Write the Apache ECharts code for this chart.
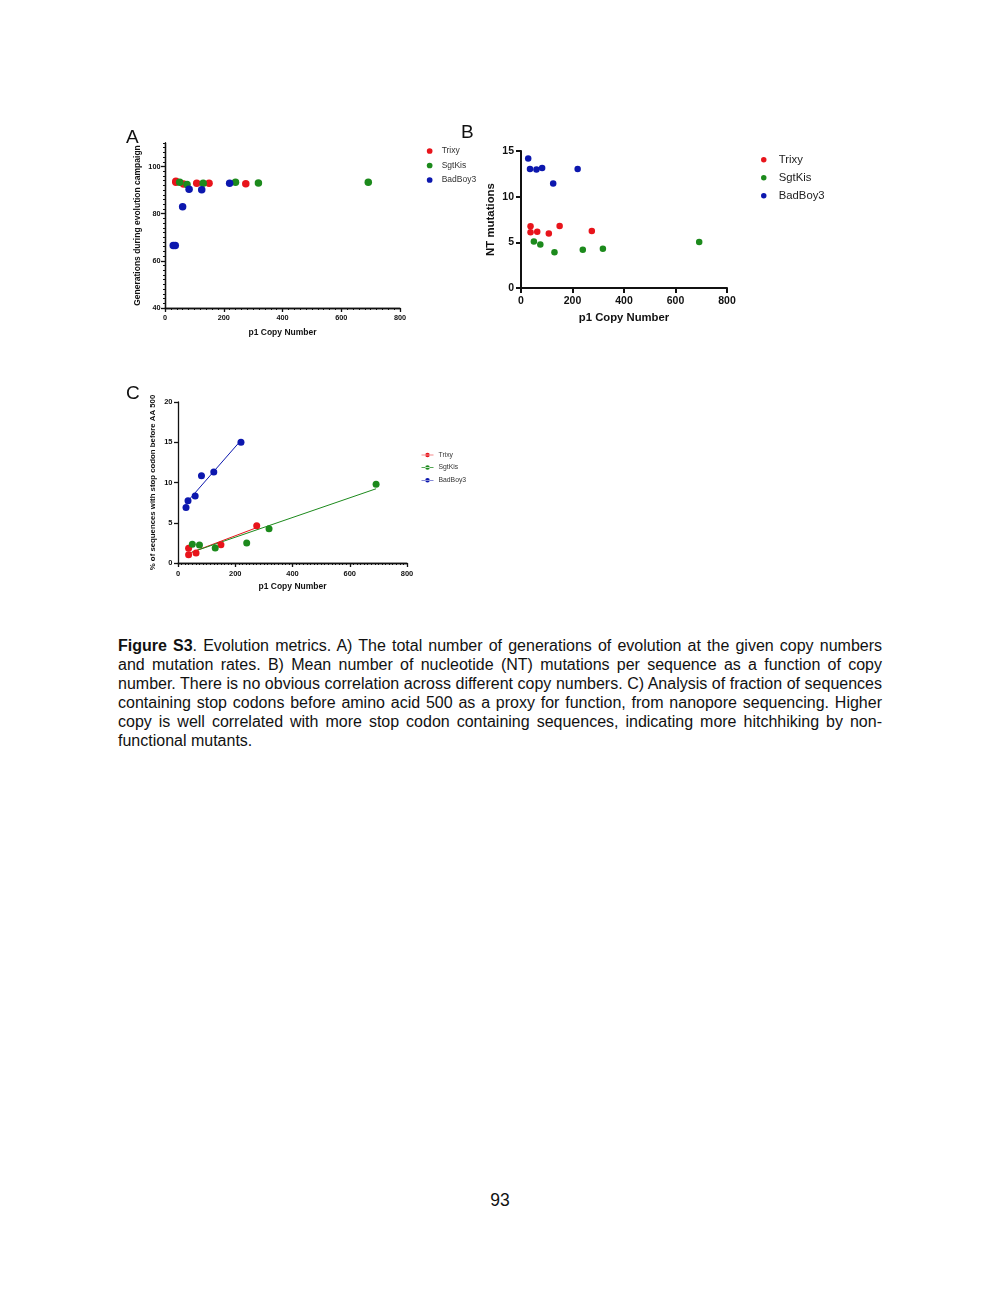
<!DOCTYPE html>
<html>
<head>
<meta charset="utf-8">
<script src="https://cdn.jsdelivr.net/npm/echarts@6/dist/echarts.min.js"></script>
<style>
html,body{margin:0;padding:0;background:#fff;}
#chart{position:absolute;left:0;top:0;width:1000px;height:620px;}
#caption{position:absolute;left:118px;top:635.5px;width:764px;font-family:"Liberation Sans",Arial,sans-serif;font-size:16px;line-height:19px;color:#111;}
#caption div{text-align:justify;text-align-last:justify;white-space:nowrap;}
#caption div.last{text-align-last:left;}
#page{position:absolute;left:0;top:1189px;width:1000px;text-align:center;font-family:"Liberation Sans",Arial,sans-serif;font-size:17.5px;line-height:22px;color:#111;}
</style>
</head>
<body>
<div id="chart"></div>
<div id="caption">
<div><b>Figure S3</b>. Evolution metrics. A) The total number of generations of evolution at the given copy numbers</div>
<div>and mutation rates. B) Mean number of nucleotide (NT) mutations per sequence as a function of copy</div>
<div>number. There is no obvious correlation across different copy numbers. C) Analysis of fraction of sequences</div>
<div>containing stop codons before amino acid 500 as a proxy for function, from nanopore sequencing. Higher</div>
<div>copy is well correlated with more stop codon containing sequences, indicating more hitchhiking by non-</div>
<div class="last">functional mutants.</div>
</div>
<div id="page">93</div>
<script>
// ---- data ----
const seriesNames = ['Trixy', 'SgtKis', 'BadBoy3'];
const colors = ['#e8141b', '#1c8a1c', '#0c17ae'];

// copy numbers
const trixyX = [37, 37, 63, 108, 150, 275];
const sgtX = [50, 75, 130, 240, 318, 692];
const badX = [28, 35, 60, 82, 125, 220];

// Panel A: generations during evolution campaign
const trixyGen = [93.8, 93.3, 92.6, 92.9, 92.9, 92.7];
const sgtGen = [93.4, 92.4, 92.9, 93.4, 93.0, 93.4];
const badGen = [66.5, 66.5, 83.0, 90.4, 90.2, 92.9];

// Panel B: NT mutations
const trixyNT = [6.76, 6.10, 6.17, 5.96, 6.79, 6.25];
const sgtNT = [5.09, 4.76, 3.92, 4.18, 4.29, 5.05];
const badNT = [14.17, 13.04, 12.97, 13.15, 11.44, 13.04];

// Panel C: % sequences with stop codon before AA 500
const trixyStopX = [37, 37, 63, 150, 275];
const trixyStop = [1.83, 1.03, 1.24, 2.27, 4.63];
const sgtStop = [2.32, 2.24, 1.86, 2.48, 4.26, 9.78];
const badStop = [6.90, 7.74, 8.32, 10.85, 11.30, 15.00];

// axis ticks
const xTicks = [0, 200, 400, 600, 800];
const yTicksA = [40, 60, 80, 100];
const yTicksB = [0, 5, 10, 15];
const yTicksC = [0, 5, 10, 15, 20];

// ---- helpers ----
const FONT = '"Liberation Sans", Arial, sans-serif';
const INK = '#111';
function pairs(xs, ys) { return xs.map((x, i) => [x, ys[i]]); }
function fitLine(xs, ys) {
  const n = xs.length;
  const mx = xs.reduce((a, b) => a + b, 0) / n;
  const my = ys.reduce((a, b) => a + b, 0) / n;
  let sxy = 0, sxx = 0;
  for (let i = 0; i < n; i++) { sxy += (xs[i] - mx) * (ys[i] - my); sxx += (xs[i] - mx) * (xs[i] - mx); }
  const b = sxy / sxx, a = my - b * mx;
  const lo = Math.min(...xs), hi = Math.max(...xs);
  return [[lo, a + b * lo], [hi, a + b * hi]];
}

function minorAxis(grid, pos, min, max, interval, lw) {
  return {
    type: 'value', gridIndex: grid, position: pos, min: min, max: max, interval: interval,
    axisLine: { show: true, onZero: false, lineStyle: { color: INK, width: lw } },
    axisTick: { show: true, length: 2, lineStyle: { color: INK, width: 1 } },
    axisLabel: { show: false }, splitLine: { show: false }
  };
}
function majorAxis(o) {
  return {
    type: 'value', gridIndex: o.grid, position: o.pos, min: o.min, max: o.max, interval: o.interval,
    name: o.name, nameLocation: 'middle', nameGap: o.nameGap,
    nameTextStyle: { fontFamily: FONT, fontWeight: 'bold', fontSize: o.nameSize, color: INK },
    axisLine: { show: true, onZero: false, lineStyle: { color: INK, width: o.lw } },
    axisTick: { show: true, length: o.tickLen, customValues: o.ticks, lineStyle: { color: INK, width: o.lw } },
    axisLabel: { show: true, margin: o.margin, customValues: o.ticks, fontFamily: FONT, fontWeight: 'bold', fontSize: o.labelSize, color: INK },
    splitLine: { show: false }
  };
}

const xAxis = [
  minorAxis(0, 'bottom', 0, 800, 20, 1.3),
  majorAxis({ grid: 0, pos: 'bottom', min: 0, max: 800, interval: 200, ticks: xTicks, name: 'p1 Copy Number', nameGap: 20, nameSize: 8.5, lw: 1.3, tickLen: 4, margin: 6, labelSize: 7.3 }),
  majorAxis({ grid: 1, pos: 'bottom', min: 0, max: 800, interval: 200, ticks: xTicks, name: 'p1 Copy Number', nameGap: 24, nameSize: 11.3, lw: 2, tickLen: 5, margin: 8, labelSize: 10.5 }),
  minorAxis(2, 'bottom', 0, 800, 12.5, 1.3),
  majorAxis({ grid: 2, pos: 'bottom', min: 0, max: 800, interval: 200, ticks: xTicks, name: 'p1 Copy Number', nameGap: 19.5, nameSize: 8.5, lw: 1.3, tickLen: 4, margin: 6.5, labelSize: 7.5 })
];
const yAxis = [
  minorAxis(0, 'left', 40, 110, 2, 1.3),
  majorAxis({ grid: 0, pos: 'left', min: 40, max: 110, interval: 20, ticks: yTicksA, name: 'Generations during evolution campaign', nameGap: 22.5, nameSize: 8.5, lw: 1.3, tickLen: 4, margin: 4.5, labelSize: 7.3 }),
  majorAxis({ grid: 1, pos: 'left', min: 0, max: 15, interval: 5, ticks: yTicksB, name: 'NT mutations', nameGap: 24.5, nameSize: 11.4, lw: 2, tickLen: 5, margin: 7, labelSize: 10.5 }),
  majorAxis({ grid: 2, pos: 'left', min: 0, max: 20, interval: 5, ticks: yTicksC, name: '% of sequences with stop codon before AA 500', nameGap: 21, nameSize: 7.8, lw: 1.3, tickLen: 4, margin: 5.5, labelSize: 7.5 })
];

function scatter(name, idx, data, xi, yi, size) {
  return {
    type: 'scatter', name: name, xAxisIndex: xi, yAxisIndex: yi, data: data,
    symbol: 'circle', symbolSize: size, itemStyle: { color: colors[idx], opacity: 1 }, z: 3
  };
}
function fitSeries(name, idx, xs, ys) {
  return {
    type: 'line', name: name, xAxisIndex: 4, yAxisIndex: 3, data: fitLine(xs, ys),
    symbol: 'none', showSymbol: false, lineStyle: { color: colors[idx], width: 1 }, itemStyle: { color: colors[idx] }, z: 2
  };
}

const series = [
  scatter('Trixy', 0, pairs(trixyX, trixyGen), 1, 1, 7.5),
  scatter('SgtKis', 1, pairs(sgtX, sgtGen), 1, 1, 7.5),
  scatter('BadBoy3', 2, pairs(badX, badGen), 1, 1, 7.5),
  scatter('Trixy', 0, pairs(trixyX, trixyNT), 2, 2, 6.5),
  scatter('SgtKis', 1, pairs(sgtX, sgtNT), 2, 2, 6.5),
  scatter('BadBoy3', 2, pairs(badX, badNT), 2, 2, 6.5),
  fitSeries('Trixy', 0, trixyStopX, trixyStop),
  fitSeries('SgtKis', 1, sgtX, sgtStop),
  fitSeries('BadBoy3', 2, badX, badStop),
  scatter('Trixy', 0, pairs(trixyStopX, trixyStop), 4, 3, 7),
  scatter('SgtKis', 1, pairs(sgtX, sgtStop), 4, 3, 7),
  scatter('BadBoy3', 2, pairs(badX, badStop), 4, 3, 7)
];

const lineDotIcon = 'path://M0,3.9h24v1.2H0z M7.5,4.5a4.5,4.5 0 1,0 9,0a4.5,4.5 0 1,0 -9,0z';

const legend = [
  { orient: 'vertical', left: 426.8, top: 146.5, itemWidth: 14, itemHeight: 5.7, itemGap: 5.5, icon: 'circle',
    data: seriesNames, selectedMode: false, padding: 0,
    textStyle: { fontFamily: FONT, fontSize: 8.5, color: '#333' } },
  { orient: 'vertical', left: 761, top: 154.3, itemWidth: 20, itemHeight: 5.5, itemGap: 7, icon: 'circle',
    data: seriesNames, selectedMode: false, padding: 0,
    textStyle: { fontFamily: FONT, fontSize: 11.3, color: '#222' } },
  { orient: 'vertical', left: 421.5, top: 451.5, itemWidth: 12, itemHeight: 4.5, itemGap: 5.6, icon: lineDotIcon,
    data: seriesNames, selectedMode: false, padding: 0,
    textStyle: { fontFamily: FONT, fontSize: 6.8, color: '#333' } }
];

const option = {
  animation: false,
  backgroundColor: '#fff',
  grid: [
    { left: 165, top: 143, width: 235, height: 165, outerBoundsMode: 'none', containLabel: false },
    { left: 521, top: 151, width: 206, height: 137, outerBoundsMode: 'none', containLabel: false },
    { left: 178, top: 402, width: 229, height: 161, outerBoundsMode: 'none', containLabel: false }
  ],
  xAxis: xAxis,
  yAxis: yAxis,
  legend: legend,
  series: series,
  graphic: [
    { type: 'text', x: 126, y: 138, style: { text: 'A', fontFamily: FONT, fontSize: 19, fill: INK, verticalAlign: 'middle' } },
    { type: 'text', x: 461, y: 132.3, style: { text: 'B', fontFamily: FONT, fontSize: 19, fill: INK, verticalAlign: 'middle' } },
    { type: 'text', x: 126, y: 393.7, style: { text: 'C', fontFamily: FONT, fontSize: 19, fill: INK, verticalAlign: 'middle' } }
  ]
};

const chart = echarts.init(document.getElementById('chart'), null, { renderer: 'canvas' });
chart.setOption(option);
</script>
</body>
</html>
